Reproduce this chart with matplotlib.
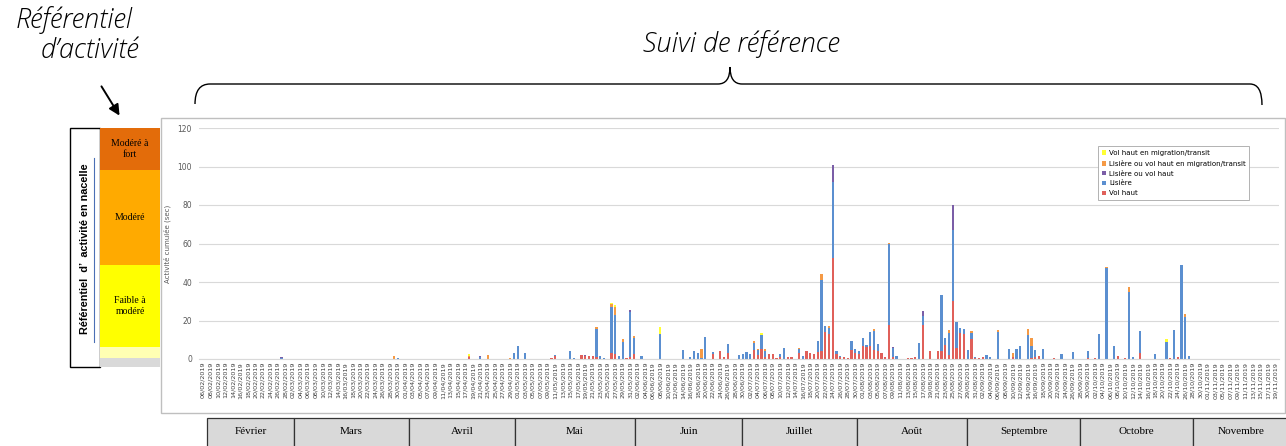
import numpy as np
import pandas as pd
import matplotlib.pyplot as plt
from matplotlib.path import Path
from matplotlib.patches import PathPatch, Rectangle

# daily categories
days = pd.date_range("2019-02-06", "2019-11-19", freq="D")
day_keys = list(days.strftime("%d/%m"))
tick_labels = list(days.strftime("%d/%m/%Y"))

# values (sec), days not listed are 0
vol_haut = {
    "18/04": 1.0, "10/05": 0.5, "11/05": 1.5, "18/05": 2.0, "19/05": 1.5, "20/05": 1.5,
    "21/05": 1.5, "22/05": 1.0, "26/05": 3.0, "27/05": 2.6, "30/05": 0.7, "31/05": 1.0,
    "01/06": 2.5, "22/06": 2.8, "24/06": 4.0, "25/06": 1.0, "26/06": 3.0,
    "03/07": 4.5, "04/07": 2.0, "05/07": 5.0, "06/07": 1.0, "07/07": 2.4, "08/07": 2.6,
    "09/07": 0.5, "10/07": 1.2, "12/07": 0.8, "13/07": 0.8, "15/07": 3.0, "17/07": 4.0,
    "18/07": 3.0, "19/07": 2.6, "20/07": 3.5, "21/07": 4.0, "22/07": 14.0, "23/07": 13.0,
    "24/07": 52.5, "25/07": 2.5, "26/07": 0.8, "27/07": 0.8, "28/07": 0.5, "29/07": 4.5,
    "30/07": 3.0, "31/07": 2.5, "01/08": 6.5, "02/08": 6.0, "03/08": 6.5, "04/08": 4.5,
    "05/08": 4.0, "06/08": 3.0, "07/08": 0.8, "08/08": 17.5, "09/08": 1.0, "13/08": 0.5,
    "14/08": 0.5, "15/08": 1.2, "17/08": 17.5, "19/08": 4.2, "21/08": 4.4, "22/08": 4.0,
    "23/08": 7.3, "24/08": 2.0, "25/08": 30.0, "26/08": 5.5, "27/08": 13.3, "28/08": 13.0,
    "30/08": 10.5, "31/08": 0.6, "01/09": 0.5, "02/09": 0.8, "10/09": 1.0, "15/09": 0.5,
    "16/09": 1.0, "17/09": 1.4, "21/09": 0.5, "30/09": 0.6, "02/10": 0.5, "08/10": 1.4,
    "10/10": 0.5, "14/10": 3.3, "22/10": 0.4, "24/10": 1.0,
}
lisiere = {
    "27/02": 0.5, "30/03": 0.5, "21/04": 1.0, "30/04": 3.3, "01/05": 6.6, "03/05": 3.3,
    "11/05": 0.5, "15/05": 4.0, "16/05": 0.3, "22/05": 14.5, "23/05": 1.7, "24/05": 0.3,
    "26/05": 24.0, "27/05": 20.5, "28/05": 1.7, "29/05": 9.0, "31/05": 23.5, "01/06": 8.5,
    "03/06": 1.7, "08/06": 13.2, "14/06": 4.7, "16/06": 1.0, "17/06": 4.0, "18/06": 3.3,
    "19/06": 0.5, "20/06": 11.2, "22/06": 0.8, "26/06": 5.0, "29/06": 2.0, "30/06": 2.4,
    "01/07": 3.6, "02/07": 2.8, "03/07": 4.0, "04/07": 2.5, "05/07": 7.5, "06/07": 3.2,
    "10/07": 1.2, "11/07": 5.9, "15/07": 2.0, "16/07": 1.5, "20/07": 6.0, "21/07": 37.0,
    "22/07": 3.1, "23/07": 3.3, "24/07": 39.5, "25/07": 1.8, "26/07": 0.8, "29/07": 4.7,
    "30/07": 2.0, "31/07": 1.7, "01/08": 4.6, "02/08": 1.1, "03/08": 7.7, "04/08": 10.0,
    "05/08": 3.8, "08/08": 42.0, "09/08": 4.5, "10/08": 1.3, "16/08": 8.5, "17/08": 5.0,
    "22/08": 29.0, "23/08": 3.8, "24/08": 11.5, "25/08": 37.0, "26/08": 13.9, "27/08": 3.0,
    "28/08": 2.4, "29/08": 4.5, "30/08": 3.0, "31/08": 0.6, "03/09": 2.1, "04/09": 1.0,
    "06/09": 14.0, "09/09": 5.3, "11/09": 5.0, "12/09": 6.8, "14/09": 12.5, "15/09": 6.5,
    "16/09": 3.5, "18/09": 5.0, "23/09": 2.8, "26/09": 3.5, "30/09": 3.6, "03/10": 12.8,
    "05/10": 47.5, "07/10": 6.8, "11/10": 35.0, "12/10": 1.2, "14/10": 11.4, "18/10": 2.8,
    "21/10": 9.0, "23/10": 15.1, "25/10": 48.8, "26/10": 21.6, "27/10": 1.7,
}
lisiere_ou_vol_haut = {
    "27/02": 0.5, "21/04": 0.8, "19/05": 0.5, "31/05": 0.8, "24/07": 9.0, "09/08": 0.6,
    "17/08": 2.4, "25/08": 13.0,
}
lisiere_vol_haut_migration = {
    "29/03": 1.5, "18/04": 0.6, "23/04": 1.9, "29/04": 0.3, "22/05": 1.3, "26/05": 1.5,
    "27/05": 4.0, "29/05": 1.2, "01/06": 0.8, "19/06": 4.8, "03/07": 1.0, "04/07": 0.5,
    "06/07": 1.0, "15/07": 0.9, "21/07": 3.0, "23/07": 1.0, "04/08": 1.3, "08/08": 1.0,
    "24/08": 1.5, "30/08": 1.0, "06/09": 1.0, "10/09": 2.0, "14/09": 3.3, "15/09": 4.0,
    "05/10": 0.5, "11/10": 2.5, "22/10": 0.3, "26/10": 2.0,
}
vol_haut_migration = {
    "18/04": 1.2, "26/05": 0.5, "27/05": 1.0, "08/06": 3.5, "05/07": 1.2, "21/10": 1.2,
}

series_names = ["Vol haut", "Lisière", "Lisière ou vol haut",
                "Lisière ou vol haut en migration/transit", "Vol haut en migration/transit"]
series_data = [vol_haut, lisiere, lisiere_ou_vol_haut, lisiere_vol_haut_migration, vol_haut_migration]
series_colors = ["#E0605A", "#5B8FD0", "#7B5EA7", "#F59A45", "#FFFF33"]

months = ["Février", "Mars", "Avril", "Mai", "Juin", "Juillet", "Août",
          "Septembre", "Octobre", "Novembre"]
month_edges = [207, 294, 409, 515, 635, 742, 857, 967, 1080, 1193, 1290]

levels = ["Modéré à\nfort", "Modéré", "Faible à\nmodéré", "", ""]
level_colors = ["#E36C0A", "#FFAA00", "#FFFF00", "#FFFFB3", "#D9D9D9"]
level_edges = [128, 170, 265, 347, 358, 367]

W, H = 1286, 446
fig = plt.figure(figsize=(W / 100, H / 100), dpi=100)

# pixel overlay for the composite parts
ov = fig.add_axes([0, 0, 1, 1], zorder=0)
ov.set_xlim(0, W)
ov.set_ylim(H, 0)
ov.axis("off")

# chart frame
ov.add_patch(Rectangle((161, 118), 1124, 295, facecolor="white", edgecolor="#BFBFBF", lw=1.0))

# left reference panel
ov.add_patch(Rectangle((70, 128), 30, 239, facecolor="white", edgecolor="black", lw=1.0))
ov.text(85, 249, "Référentiel  d’  activité en nacelle", rotation=90, ha="center", va="center",
        fontsize=7.8, fontweight="bold", family="Liberation Sans")
ov.plot([93.5, 93.5], [158, 342], color="#4A6FB5", lw=0.8)
for i, name in enumerate(levels):
    y0, y1 = level_edges[i], level_edges[i + 1]
    ov.add_patch(Rectangle((100, y0), 60, y1 - y0, facecolor=level_colors[i], edgecolor="none"))
    if name:
        ov.text(130, (y0 + y1) / 2, name, ha="center", va="center", fontsize=7,
                family="Liberation Serif", linespacing=1.2)

# annotations on top
title_font = dict(style="italic", fontweight="light", family=["Open Sans", "Lato", "DejaVu Sans"],
                  color="black")
ov.text(74, 20, "Référentiel", ha="center", va="center", fontsize=19.5, **title_font)
ov.text(90, 51, "d’activité", ha="center", va="center", fontsize=19.5, **title_font)
ov.annotate("", xy=(121, 118), xytext=(100, 84),
            arrowprops=dict(arrowstyle="-|>", color="black", lw=1.4, mutation_scale=16))
ov.text(741, 44, "Suivi de référence", ha="center", va="center", fontsize=19.5, **title_font)
brace = Path(
    [(195, 104), (195, 84), (210, 84), (718, 84), (730, 84), (730, 67),
     (730, 84), (742, 84), (1250, 84), (1262, 84), (1262, 105)],
    [Path.MOVETO, Path.CURVE3, Path.CURVE3, Path.LINETO, Path.CURVE3, Path.CURVE3,
     Path.CURVE3, Path.CURVE3, Path.LINETO, Path.CURVE3, Path.CURVE3])
ov.add_patch(PathPatch(brace, facecolor="none", edgecolor="black", lw=1.0))

# month table
for i, m in enumerate(months):
    x0, x1 = month_edges[i], month_edges[i + 1]
    ov.add_patch(Rectangle((x0, 418), x1 - x0, 40, facecolor="#D9D9D9", edgecolor="#333333", lw=0.9))
    ov.text((x0 + x1) / 2, 432, m, ha="center", va="center", fontsize=8, family="Liberation Serif")

# bar chart
ax = fig.add_axes([199 / W, (H - 359) / H, 1080 / W, 231 / H], zorder=1)
ax.patch.set_alpha(0)
x = np.arange(len(days))
bottom = np.zeros(len(days))
handles = []
for name, data, color in zip(series_names, series_data, series_colors):
    vals = np.array([data.get(k, 0.0) for k in day_keys])
    b = ax.bar(x, vals, 0.6, bottom=bottom, color=color, label=name, linewidth=0)
    handles.append(b)
    bottom += vals

ax.set_xlim(-1, len(days))
ax.set_ylim(0, 120)
ax.set_yticks(np.arange(0, 121, 20))
ax.yaxis.grid(True, color="#D9D9D9", lw=0.8)
ax.set_axisbelow(True)
for s in ["top", "right", "left"]:
    ax.spines[s].set_visible(False)
ax.spines["bottom"].set_color("#D9D9D9")
ax.set_xticks(x[::2])
ax.set_xticklabels(tick_labels[::2], rotation=90, fontsize=4.6, color="#404040")
ax.tick_params(axis="x", length=0, pad=2)
ax.tick_params(axis="y", length=0, labelsize=5.5, labelcolor="#595959", pad=5)
ax.set_ylabel("Activité cumulée (sec)", fontsize=5, color="#595959", labelpad=5)

leg = ax.legend(handles[::-1], series_names[::-1], loc="upper left",
                bbox_to_anchor=(1095, 143), bbox_transform=ov.transData,
                fontsize=5, handlelength=0.6, handleheight=0.6, handletextpad=0.4,
                labelspacing=0.55, borderpad=0.5, fancybox=False, framealpha=1)
leg.get_frame().set_edgecolor("#A6A6A6")
leg.get_frame().set_linewidth(0.6)

fig.savefig("out.png", dpi=100)
